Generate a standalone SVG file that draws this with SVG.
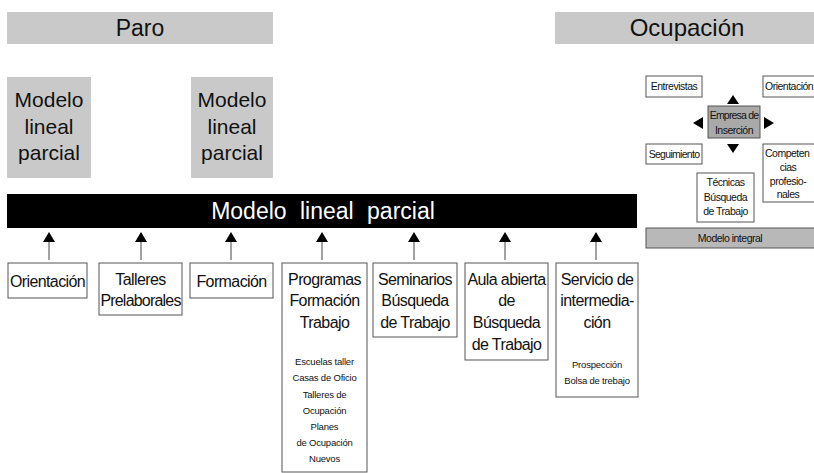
<svg xmlns="http://www.w3.org/2000/svg" width="814" height="473" viewBox="0 0 814 473">
<defs>
<style>
text{font-family:"Liberation Sans",Arial,sans-serif;fill:#111;text-anchor:middle}
.band{fill:#c9c9c9}
.box{fill:#fff;stroke:#555;stroke-width:1}
.t17{font-size:16px;letter-spacing:-0.6px}
.t20{font-size:21px}
.t10{font-size:9.5px;letter-spacing:-0.2px}
.t9{font-size:10.5px;letter-spacing:-0.5px}
.conn line{stroke:#444;stroke-width:1}
.head{fill:#000}
</style>
</defs>
<rect width="814" height="473" fill="#fff"/>

<g id="paro"><rect class="band" x="7" y="12" width="266" height="32"/><text x="140" y="36" style="font-size:23px">Paro</text></g>
<g id="ocupacion"><rect class="band" x="555" y="12" width="259" height="32"/><text x="687" y="36" style="font-size:24px">Ocupación</text></g>

<g id="mlp1"><rect class="band" x="7" y="77" width="84" height="101"/>
<text class="t20" x="49" y="107">Modelo</text><text class="t20" x="49" y="134">lineal</text><text class="t20" x="49" y="160">parcial</text></g>
<g id="mlp2"><rect class="band" x="191" y="77" width="82" height="101"/>
<text class="t20" x="232" y="107">Modelo</text><text class="t20" x="232" y="134">lineal</text><text class="t20" x="232" y="160">parcial</text></g>

<g id="bar"><rect x="7" y="194" width="630" height="34" fill="#000"/>
<text x="323" y="219" style="font-size:23px;fill:#fff;word-spacing:7px">Modelo lineal parcial</text></g>

<g class="conn" id="connectors">
<line x1="49" y1="241" x2="49" y2="260"/><polygon class="head" points="49,232 43,242 55,242"/>
<line x1="141" y1="241" x2="141" y2="260"/><polygon class="head" points="141,232 135,242 147,242"/>
<line x1="231" y1="241" x2="231" y2="260"/><polygon class="head" points="231,232 225,242 237,242"/>
<line x1="322" y1="241" x2="322" y2="260"/><polygon class="head" points="322,232 316,242 328,242"/>
<line x1="414" y1="241" x2="414" y2="260"/><polygon class="head" points="414,232 408,242 420,242"/>
<line x1="505" y1="241" x2="505" y2="260"/><polygon class="head" points="505,232 499,242 511,242"/>
<line x1="596" y1="241" x2="596" y2="260"/><polygon class="head" points="596,232 590,242 602,242"/>
<polygon class="head" points="733,95 727,104 739,104"/>
<polygon class="head" points="733,153 727,144 739,144"/>
<polygon class="head" points="693,123 703,117 703,129"/>
<polygon class="head" points="774,123 764,117 764,129"/>
</g>

<g id="orientacion"><rect class="box" x="8" y="263" width="79" height="35"/><text class="t17" x="47.5" y="287">Orientación</text></g>
<g id="talleres"><rect class="box" x="99" y="263" width="83" height="52"/><text class="t17" x="140.5" y="285">Talleres</text><text class="t17" x="140.5" y="306" style="letter-spacing:-0.8px">Prelaborales</text></g>
<g id="formacion"><rect class="box" x="190" y="263" width="83" height="35"/><text class="t17" x="231.5" y="287">Formación</text></g>
<g id="programas"><rect class="box" x="282" y="263" width="85" height="209"/>
<text class="t17" x="324.5" y="285">Programas</text><text class="t17" x="324.5" y="306">Formación</text><text class="t17" x="324.5" y="328">Trabajo</text>
<text class="t10" x="324.5" y="365">Escuelas taller</text><text class="t10" x="324.5" y="381">Casas de Oficio</text><text class="t10" x="324.5" y="398">Talleres de</text><text class="t10" x="324.5" y="414">Ocupación</text><text class="t10" x="324.5" y="430">Planes</text><text class="t10" x="324.5" y="446">de Ocupación</text><text class="t10" x="324.5" y="462">Nuevos</text></g>
<g id="seminarios"><rect class="box" x="373" y="263" width="84" height="74"/>
<text class="t17" x="415" y="285">Seminarios</text><text class="t17" x="415" y="306">Búsqueda</text><text class="t17" x="415" y="328">de Trabajo</text></g>
<g id="aula"><rect class="box" x="465" y="263" width="83" height="97"/>
<text class="t17" x="506.5" y="285">Aula abierta</text><text class="t17" x="506.5" y="306">de</text><text class="t17" x="506.5" y="328">Búsqueda</text><text class="t17" x="506.5" y="350">de Trabajo</text></g>
<g id="servicio"><rect class="box" x="556" y="263" width="82" height="134"/>
<text class="t17" x="597" y="285">Servicio de</text><text class="t17" x="597" y="306">intermedia-</text><text class="t17" x="597" y="328">ción</text>
<text class="t10" x="597" y="368">Prospección</text><text class="t10" x="597" y="384">Bolsa de trebajo</text></g>

<g id="entrevistas"><rect class="box" x="646" y="76" width="56" height="21"/><text class="t9" x="674" y="90">Entrevistas</text></g>
<g id="orientacion2"><rect class="box" x="763" y="76" width="60" height="21"/><text class="t9" x="765" y="90" style="text-anchor:start">Orientación</text></g>
<g id="empresa"><rect x="708" y="106" width="52" height="32" fill="#a9a9a9" stroke="#555"/><text class="t9" x="734" y="119" style="letter-spacing:-0.8px">Empresa de</text><text class="t9" x="734" y="134">Inserción</text></g>
<g id="seguimiento"><rect class="box" x="646" y="144" width="56" height="20"/><text class="t9" x="674" y="158" style="letter-spacing:-0.7px">Seguimiento</text></g>
<g id="competencias"><rect class="box" x="763" y="144" width="60" height="58"/><text class="t9" x="765" y="157" style="text-anchor:start">Competen</text><text class="t9" x="788" y="171">cias</text><text class="t9" x="788" y="185">profesio-</text><text class="t9" x="788" y="198">nales</text></g>
<g id="tecnicas"><rect class="box" x="697" y="173" width="57" height="49"/><text class="t9" x="725.5" y="186">Técnicas</text><text class="t9" x="725.5" y="201">Búsqueda</text><text class="t9" x="725.5" y="215">de Trabajo</text></g>
<g id="integral"><rect x="646" y="228" width="170" height="20" fill="#b8b8b8" stroke="#555"/><text class="t9" x="730" y="242">Modelo integral</text></g>
</svg>
